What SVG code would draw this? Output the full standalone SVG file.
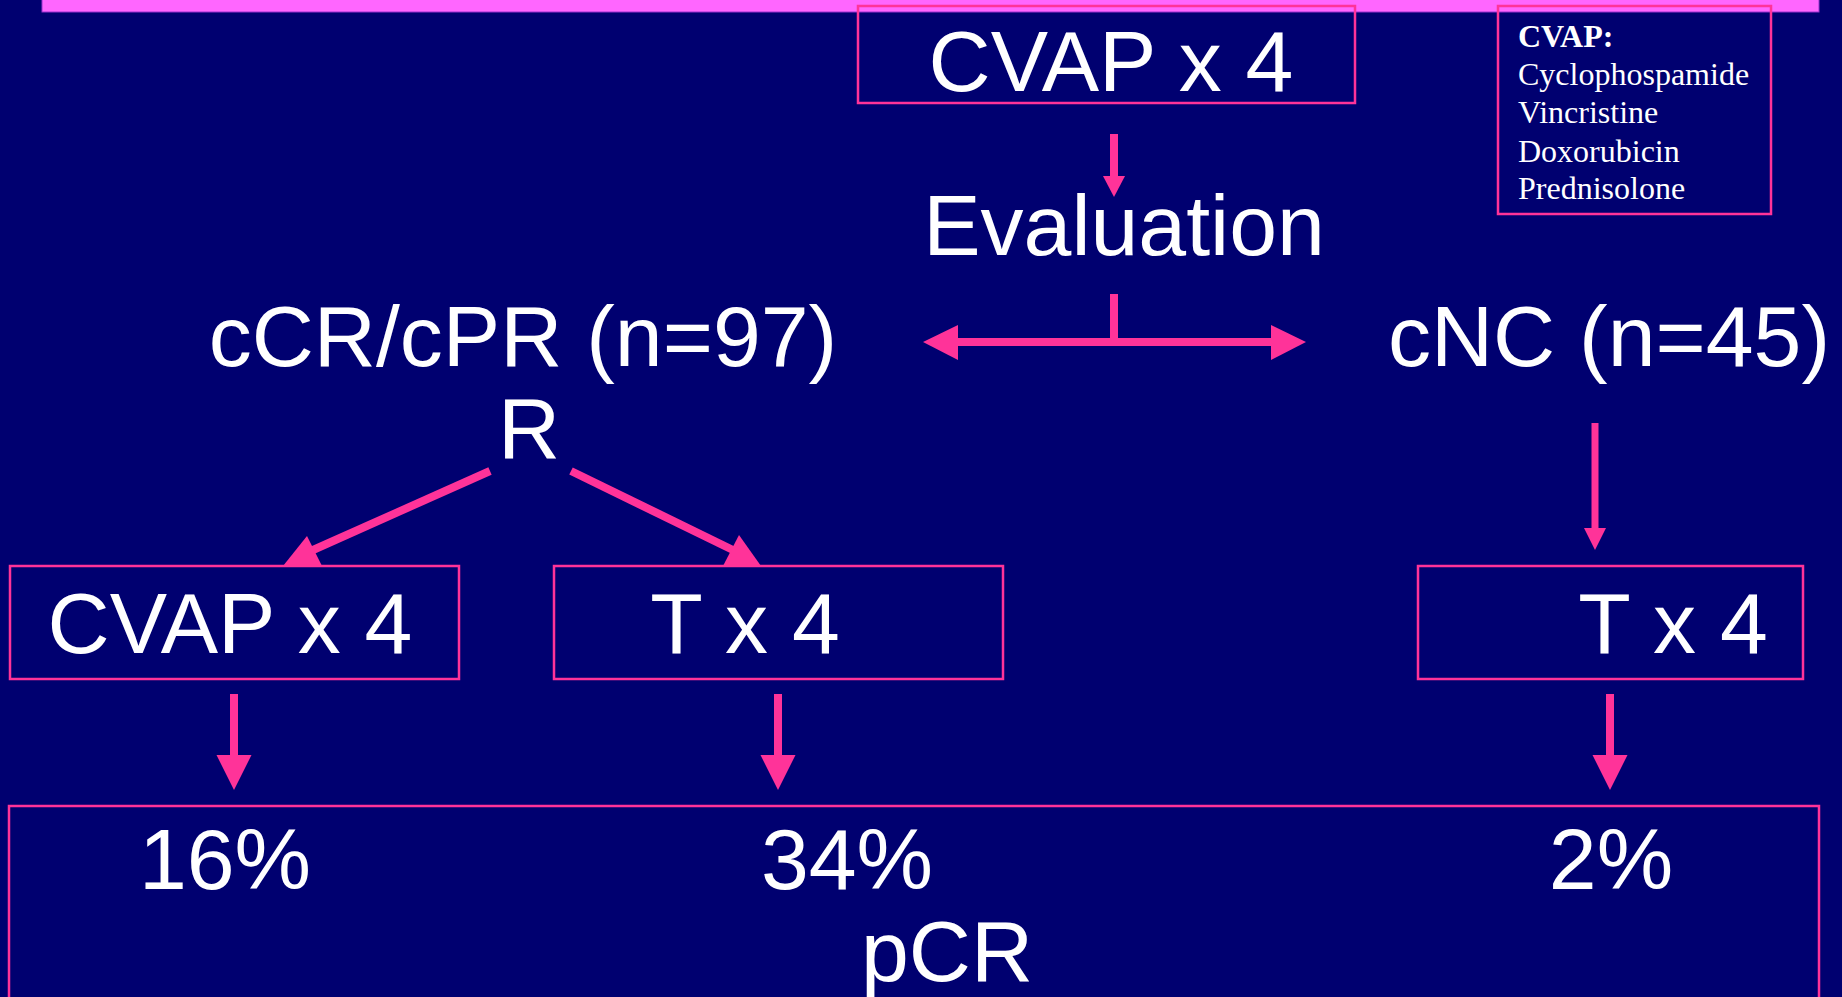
<svg xmlns="http://www.w3.org/2000/svg" width="1842" height="997" viewBox="0 0 1842 997">
<style>
.box{fill:none;stroke:#FF3399;stroke-width:2.5}
.t{font-family:"Liberation Sans",Arial,sans-serif;font-size:86px;fill:#FFFFFF;text-anchor:middle}
.leg{font-family:"Liberation Serif","Times New Roman",serif;font-size:32px;fill:#FFFFFF}
.ln{stroke:#FF3399;stroke-width:8;fill:none}
.hd{fill:#FF3399}
</style>
<rect x="0" y="0" width="1842" height="997" fill="#000070"/>
<rect x="42" y="-1" width="1777" height="13" fill="#FF66FF" stroke="#9933CC" stroke-width="1"/>

<g id="connectors">
  <line class="ln" x1="1114" y1="134" x2="1114" y2="178"/>
  <polygon class="hd" points="1103,176 1125,176 1114,197"/>
  <line class="ln" x1="1114" y1="294" x2="1114" y2="342"/>
  <line class="ln" x1="956" y1="342" x2="1273" y2="342"/>
  <polygon class="hd" points="923,342 958,325 958,360"/>
  <polygon class="hd" points="1306,342 1271,325 1271,360"/>
  <line class="ln" x1="490" y1="471" x2="313" y2="550"/>
  <polygon class="hd" points="307,536 283,566 322,566"/>
  <line class="ln" x1="571" y1="471" x2="737" y2="552"/>
  <polygon class="hd" points="739,535 723,566 761,566"/>
  <line class="ln" style="stroke-width:7" x1="1595" y1="423" x2="1595" y2="530"/>
  <polygon class="hd" points="1584,528 1606,528 1595,550"/>
  <line class="ln" x1="234" y1="694" x2="234" y2="757"/>
  <polygon class="hd" points="216.5,755 251.5,755 234,790"/>
  <line class="ln" x1="778" y1="694" x2="778" y2="757"/>
  <polygon class="hd" points="760.5,755 795.5,755 778,790"/>
  <line class="ln" x1="1610" y1="694" x2="1610" y2="757"/>
  <polygon class="hd" points="1592.5,755 1627.5,755 1610,790"/>
</g>

<g id="cvap-top">
  <rect class="box" x="858" y="6" width="497" height="97"/>
  <text class="t" x="1111" y="91">CVAP x 4</text>
</g>
<g id="legend">
  <rect class="box" x="1498" y="6" width="273" height="208"/>
  <text class="leg" x="1518" y="47" font-weight="bold">CVAP:</text>
  <text class="leg" x="1518" y="85">Cyclophospamide</text>
  <text class="leg" x="1518" y="123">Vincristine</text>
  <text class="leg" x="1518" y="162">Doxorubicin</text>
  <text class="leg" x="1518" y="199">Prednisolone</text>
</g>
<g id="evaluation">
  <text class="t" x="1124" y="255">Evaluation</text>
</g>
<g id="ccr-cpr">
  <text class="t" x="523" y="366">cCR/cPR (n=97)</text>
</g>
<g id="r">
  <text class="t" x="529" y="458">R</text>
</g>
<g id="cnc">
  <text class="t" x="1609" y="366">cNC (n=45)</text>
</g>
<g id="cvap-arm">
  <rect class="box" x="10" y="566" width="449" height="113"/>
  <text class="t" x="230" y="653">CVAP x 4</text>
</g>
<g id="t-arm">
  <rect class="box" x="554" y="566" width="449" height="113"/>
  <text class="t" x="745" y="653">T x 4</text>
</g>
<g id="t-nc">
  <rect class="box" x="1418" y="566" width="385" height="113"/>
  <text class="t" x="1673" y="653">T x 4</text>
</g>
<g id="pcr">
  <rect class="box" x="9" y="806" width="1810" height="200"/>
  <text class="t" x="225" y="889">16%</text>
  <text class="t" x="847" y="889">34%</text>
  <text class="t" x="1611" y="889">2%</text>
  <text class="t" x="947" y="981">pCR</text>
</g>
</svg>
